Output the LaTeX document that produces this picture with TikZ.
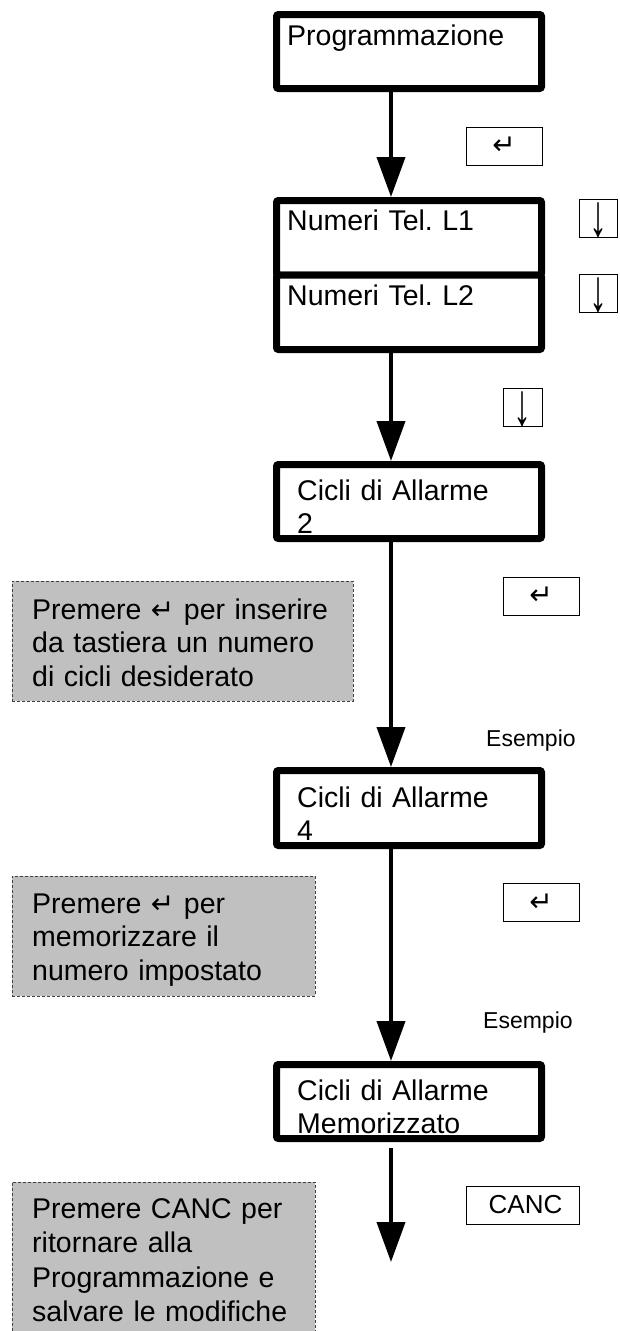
\documentclass[tikz,border=0pt]{standalone}
\usepackage{fontspec}
\setmainfont{Liberation Sans}
\newfontfamily\symfont{DejaVu Sans}
\newfontfamily\arrfont{Liberation Serif}
\usetikzlibrary{arrows.meta}
\definecolor{greyfill}{HTML}{C0C0C0}
\definecolor{dashgrey}{HTML}{404040}
\newcommand{\myret}{{\symfont\fontsize{28pt}{28pt}\selectfont ↵}}
\newcommand{\mydown}{\scalebox{0.6}[1]{\arrfont\fontsize{60pt}{60pt}\selectfont ↓}}
\frenchspacing
\tikzset{
  screen/.style={draw, line width=7pt, rounded corners=2pt, minimum width=265pt, minimum height=74pt, inner sep=0pt, fill=white},
  keybox/.style={draw, line width=0.9pt, inner sep=0pt, fill=white},
  note/.style={draw=dashgrey, dash pattern=on 3pt off 2pt, line width=0.8pt, fill=greyfill, inner sep=0pt},
  txt/.style={anchor=base west, inner sep=0pt, font=\fontsize{28.5pt}{33.5pt}\selectfont, align=left, text width=250pt},
  notetxt/.style={txt, text width=330pt},
  small/.style={anchor=base west, inner sep=0pt, font=\fontsize{23pt}{23pt}\selectfont},
  downglyph/.style={anchor=south, inner sep=0pt},
  flow/.style={line width=4pt, -{Triangle[width=28pt,length=40pt]}},
}
\begin{document}
\frenchspacing
\begin{tikzpicture}[x=1pt,y=-1pt]
\useasboundingbox (0,0) rectangle (619,1331);
\clip (0,0) rectangle (619,1331);
\coordinate (ax) at (391,0);

% screens
\node[screen] (b1) at (409,51.5) {};
\node[txt] (tb1) at (287,45) {Programmazione};

\node[screen, minimum height=74.5pt] (l1) at (409,237.75) {};
\node[screen, minimum height=74.5pt] (l2) at (409,312.25) {};
\node[txt] (tl1) at (287,230) {Numeri Tel. L1};
\node[txt] (tl2) at (287,305) {Numeri Tel. L2};

\node[screen] (c1) at (409,501.5) {};
\node[txt] (tc1) at (297,500) {Cicli di Allarme\\2};

\node[screen, minimum height=75pt] (c2) at (409,808) {};
\node[txt] (tc2) at (297,807) {Cicli di Allarme\\4};

\node[screen] (c3) at (409,1101.5) {};
\node[txt] (tc3) at (297,1100) {Cicli di Allarme\\Memorizzato};

% flow arrows
\coordinate (end) at (391,1262);
\draw[flow] (b1.south -| ax) -- (l1.north -| ax);
\draw[flow] (l2.south -| ax) -- (c1.north -| ax);
\draw[flow] (c1.south -| ax) -- (c2.north -| ax);
\draw[flow] (c2.south -| ax) -- (c3.north -| ax);
\draw[flow, shorten <=6pt] (c3.south -| ax) -- (end);

% keys
\node[keybox, minimum width=76pt, minimum height=38pt] (k1) at (504,146) {\myret};
\node[keybox, minimum width=38pt, minimum height=38pt] (d1) at (598,218) {};
\node[downglyph] (g1) at (598,238.5) {\mydown};
\node[keybox, minimum width=38pt, minimum height=38pt] (d2) at (598,293) {};
\node[downglyph] (g2) at (598,313.5) {\mydown};
\node[keybox, minimum width=39pt, minimum height=38pt] (d3) at (522.5,407) {};
\node[downglyph] (g3) at (522.5,427.5) {\mydown};
\node[keybox, minimum width=76pt, minimum height=38pt] (k2) at (541,596) {\myret};
\node[keybox, minimum width=76pt, minimum height=38pt] (k3) at (541,902.5) {\myret};
\node[keybox, minimum width=113pt, minimum height=38pt, font=\fontsize{26pt}{26pt}\selectfont] (kc) at (522.5,1205) {\hspace{6pt}CANC};

\node[small] (e1) at (486,746) {Esempio};
\node[small] (e2) at (483,1028) {Esempio};

% notes
\node[note, minimum width=341pt, minimum height=120pt] (n1) at (182.5,641) {};
\node[notetxt] (nt1) at (32,619) {Premere \myret{} per inserire\\da tastiera un numero\\di cicli desiderato};
\node[note, minimum width=303pt, minimum height=120pt] (n2) at (163.5,936) {};
\node[notetxt] (nt2) at (32,913) {Premere \myret{} per\\memorizzare il\\numero impostato};
\node[note, minimum width=303pt, minimum height=158pt] (n3) at (163.5,1261) {};
\node[notetxt, font=\fontsize{28.5pt}{34.5pt}\selectfont] (nt3) at (32,1218) {Premere CANC per\\ritornare alla\\Programmazione e\\salvare le modifiche};
\end{tikzpicture}
\end{document}
